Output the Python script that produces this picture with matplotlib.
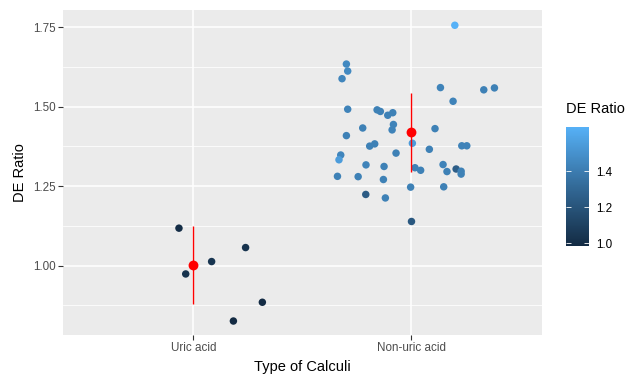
import numpy as np
import matplotlib
matplotlib.use("Agg")
import matplotlib.pyplot as plt
from matplotlib.colors import LinearSegmentedColormap

plt.rcParams["font.family"] = ["Liberation Sans", "DejaVu Sans"]

# data
categories = ["Uric acid", "Non-uric acid"]

uric_x = [0.934, 0.965, 1.084, 1.240, 1.317, 1.184]
uric_y = [1.118, 0.974, 1.013, 1.057, 0.885, 0.826]
uric_c = [1.00, 1.03, 1.04, 1.03, 0.99, 0.985]

nonuric_x = [2.201, 1.703, 1.709, 1.683, 2.135, 2.334, 2.383, 2.193, 1.709,
             1.844, 1.859, 1.893, 1.916, 1.778, 1.919, 1.913, 2.110, 1.703,
             2.006, 1.810, 1.833, 2.084, 2.233, 2.256, 1.677, 1.669, 1.931,
             1.793, 1.876, 2.147, 2.018, 2.044, 2.165, 2.207, 2.230, 2.230,
             1.662, 1.757, 1.873, 1.998, 2.150, 1.792, 1.882, 2.002]
nonuric_y = [1.756, 1.634, 1.612, 1.588, 1.560, 1.553, 1.559, 1.517, 1.492,
             1.490, 1.485, 1.473, 1.481, 1.433, 1.444, 1.427, 1.431, 1.409,
             1.385, 1.376, 1.383, 1.366, 1.377, 1.377, 1.348, 1.333, 1.354,
             1.317, 1.312, 1.318, 1.308, 1.300, 1.296, 1.304, 1.297, 1.288,
             1.281, 1.280, 1.271, 1.247, 1.248, 1.224, 1.213, 1.139]
nonuric_c = [1.646, 1.46, 1.46, 1.44, 1.43, 1.42, 1.42, 1.43, 1.43,
             1.42, 1.42, 1.42, 1.42, 1.42, 1.43, 1.43, 1.42, 1.42,
             1.55, 1.42, 1.42, 1.42, 1.43, 1.43, 1.44, 1.55, 1.42,
             1.43, 1.42, 1.43, 1.42, 1.42, 1.42, 1.25, 1.42, 1.42,
             1.42, 1.42, 1.42, 1.42, 1.42, 1.24, 1.42, 1.22]

group_mean = [1.003, 1.419]
group_lo = [0.879, 1.296]
group_hi = [1.124, 1.543]

c_min, c_max = 0.985, 1.646

cmap = LinearSegmentedColormap.from_list(
    "gg", ["#132B43", "#336A98", "#56B1F7"])

fig = plt.figure(figsize=(6.34, 3.76), dpi=100)
ax = fig.add_axes([0.0989, 0.109, 0.7555, 0.8644])
ax.set_facecolor("#EBEBEB")

ax.set_xlim(0.4, 2.6)
ax.set_ylim(0.782, 1.804)

# grid
for y in [0.875, 1.125, 1.375, 1.625]:
    ax.axhline(y, color="white", lw=0.55, zorder=0)
for y in [1.0, 1.25, 1.5, 1.75]:
    ax.axhline(y, color="white", lw=1.1, zorder=0)
for x in [1, 2]:
    ax.axvline(x, color="white", lw=1.1, zorder=0)

all_x = uric_x + nonuric_x
all_y = uric_y + nonuric_y
all_c = uric_c + nonuric_c
ax.scatter(all_x, all_y, c=all_c, cmap=cmap, vmin=c_min, vmax=c_max,
           s=29, linewidths=0, zorder=2)

pos = np.arange(1, len(categories) + 1)
ax.vlines(pos, group_lo, group_hi, color="red", lw=1.0, zorder=3)
ax.scatter(pos, group_mean, color="red", s=50, linewidths=0, zorder=4)

ax.set_xticks(pos)
ax.set_xticklabels(categories)
ax.set_yticks([1.0, 1.25, 1.5, 1.75])
ax.set_yticklabels(["1.00", "1.25", "1.50", "1.75"])
ax.tick_params(axis="both", length=3.3, width=0.8, color="#333333",
               labelcolor="#4D4D4D", labelsize=8.4, pad=2)
for s in ax.spines.values():
    s.set_visible(False)

ax.set_xlabel("Type of Calculi", fontsize=10.5, labelpad=4)
ax.set_ylabel("DE Ratio", fontsize=10.5, labelpad=4)

# colourbar legend
cax = fig.add_axes([0.8927, 0.3457, 0.0367, 0.3173])
sm = plt.cm.ScalarMappable(cmap=cmap, norm=plt.Normalize(c_min, c_max))
cb = fig.colorbar(sm, cax=cax, ticks=[1.0, 1.2, 1.4])
cb.outline.set_visible(False)
cb.ax.set_yticklabels(["1.0", "1.2", "1.4"])
cax.tick_params(direction="in", length=3.3, width=0.6, color="white",
                left=True, right=True, labelsize=8.4, labelcolor="black",
                pad=5)
fig.text(566 / 634, 1 - 109 / 376, "DE Ratio", fontsize=10.5,
         ha="left", va="center")

fig.savefig("out.png", dpi=100)
